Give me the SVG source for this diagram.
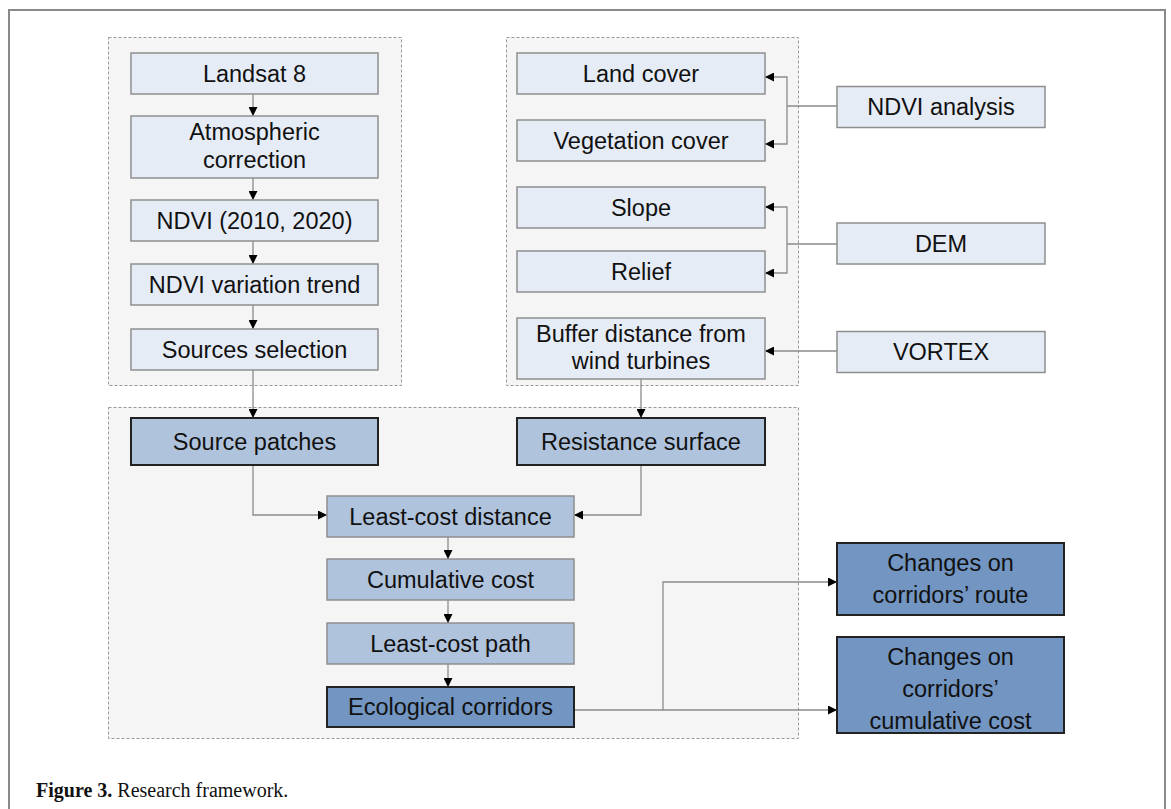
<svg xmlns="http://www.w3.org/2000/svg" width="1171" height="809" viewBox="0 0 1171 809">
<defs>
<marker id="ah" viewBox="0 0 10 10" refX="10" refY="5" markerWidth="10" markerHeight="9" markerUnits="userSpaceOnUse" orient="auto">
<path d="M0,0 L10,5 L0,10 z" fill="#000"/>
</marker>
<style>
.frame{fill:none;stroke:#8a8a8a;stroke-width:2}
.grp{fill:#f5f5f5;stroke:#999;stroke-width:1;stroke-dasharray:3,2}
.l{fill:#e6ecf6;stroke:#8e8e8e;stroke-width:1.5}
.m{fill:#b0c3dc;stroke:#8e8e8e;stroke-width:1.5}
.md{fill:#b0c3dc;stroke:#222;stroke-width:2}
.d{fill:#7295c2;stroke:#222;stroke-width:2}
.t{font-family:"Liberation Sans",Arial,sans-serif;font-size:23.5px;fill:#111;text-anchor:middle}
.c{fill:none;stroke:#8a8a8a;stroke-width:1.3}
.a{marker-end:url(#ah)}
.cap{font-family:"Liberation Serif","Times New Roman",serif;font-size:20px;fill:#111}
</style>
</defs>
<path class="frame" d="M9,809 V10 H1165 V809"/>
<g id="containers">
<rect class="grp" x="108.5" y="37.5" width="293" height="348"/>
<rect class="grp" x="506.5" y="37.5" width="292" height="348"/>
<rect class="grp" x="108.5" y="407.5" width="690" height="331"/>
</g>
<g id="connectors">
<path class="c a" d="M253,94 V116"/>
<path class="c a" d="M253,178 V200"/>
<path class="c a" d="M253,241 V264"/>
<path class="c a" d="M253,305 V329"/>
<path class="c a" d="M253,370 V418"/>
<path class="c a" d="M641,379 V418"/>
<path class="c" d="M837,106 H787"/>
<path class="c a" d="M787,106 V77 H765"/>
<path class="c a" d="M787,106 V144 H765"/>
<path class="c" d="M837,244 H787"/>
<path class="c a" d="M787,244 V207 H765"/>
<path class="c a" d="M787,244 V273 H765"/>
<path class="c a" d="M837,351 H765"/>
<path class="c a" d="M253,465 V515 H327"/>
<path class="c a" d="M641,465 V515 H574"/>
<path class="c a" d="M448,537 V559"/>
<path class="c a" d="M448,600 V623"/>
<path class="c a" d="M448,664 V687"/>
<path class="c a" d="M574,710 H837"/>
<path class="c a" d="M663,710 V582 H837"/>
</g>
<g id="landsat"><rect class="l" x="131" y="53" width="247" height="41"/><text class="t" x="254.5" y="81.5">Landsat 8</text></g>
<g id="atmospheric"><rect class="l" x="131" y="116" width="247" height="62"/><text class="t" x="254.5" y="140">Atmospheric</text><text class="t" x="254.5" y="168">correction</text></g>
<g id="ndvi"><rect class="l" x="131" y="200" width="247" height="41"/><text class="t" x="254.5" y="228.5">NDVI (2010, 2020)</text></g>
<g id="ndvi-trend"><rect class="l" x="131" y="264" width="247" height="41"/><text class="t" x="254.5" y="292.5">NDVI variation trend</text></g>
<g id="sources-selection"><rect class="l" x="131" y="329" width="247" height="41"/><text class="t" x="254.5" y="357.5">Sources selection</text></g>
<g id="land-cover"><rect class="l" x="517" y="53" width="248" height="41"/><text class="t" x="641" y="81.5">Land cover</text></g>
<g id="vegetation-cover"><rect class="l" x="517" y="120" width="248" height="41"/><text class="t" x="641" y="148.5">Vegetation cover</text></g>
<g id="slope"><rect class="l" x="517" y="187" width="248" height="41"/><text class="t" x="641" y="215.5">Slope</text></g>
<g id="relief"><rect class="l" x="517" y="251" width="248" height="41"/><text class="t" x="641" y="279.5">Relief</text></g>
<g id="buffer"><rect class="l" x="517" y="318" width="248" height="61"/><text class="t" x="641" y="342">Buffer distance from</text><text class="t" x="641" y="369">wind turbines</text></g>
<g id="ndvi-analysis"><rect class="l" x="837" y="86.5" width="208" height="41"/><text class="t" x="941" y="115">NDVI analysis</text></g>
<g id="dem"><rect class="l" x="837" y="223" width="208" height="41"/><text class="t" x="941" y="251.5">DEM</text></g>
<g id="vortex"><rect class="l" x="837" y="331.5" width="208" height="41"/><text class="t" x="941" y="360">VORTEX</text></g>
<g id="source-patches"><rect class="md" x="131" y="418" width="247" height="47"/><text class="t" x="254.5" y="449.5">Source patches</text></g>
<g id="resistance-surface"><rect class="md" x="517" y="418" width="248" height="47"/><text class="t" x="641" y="449.5">Resistance surface</text></g>
<g id="least-cost-distance"><rect class="m" x="327" y="496" width="247" height="41"/><text class="t" x="450.5" y="524.5">Least-cost distance</text></g>
<g id="cumulative-cost"><rect class="m" x="327" y="559" width="247" height="41"/><text class="t" x="450.5" y="587.5">Cumulative cost</text></g>
<g id="least-cost-path"><rect class="m" x="327" y="623" width="247" height="41"/><text class="t" x="450.5" y="651.5">Least-cost path</text></g>
<g id="ecological-corridors"><rect class="d" x="327" y="687" width="247" height="40"/><text class="t" x="450.5" y="715">Ecological corridors</text></g>
<g id="changes-route"><rect class="d" x="837" y="543" width="227" height="72"/><text class="t" x="950.5" y="571">Changes on</text><text class="t" x="950.5" y="603">corridors’ route</text></g>
<g id="changes-cost"><rect class="d" x="837" y="637" width="227" height="96"/><text class="t" x="950.5" y="665">Changes on</text><text class="t" x="950.5" y="697">corridors’</text><text class="t" x="950.5" y="729">cumulative cost</text></g>
<text class="cap" x="36" y="797"><tspan font-weight="bold">Figure 3.</tspan> Research framework.</text>
</svg>
